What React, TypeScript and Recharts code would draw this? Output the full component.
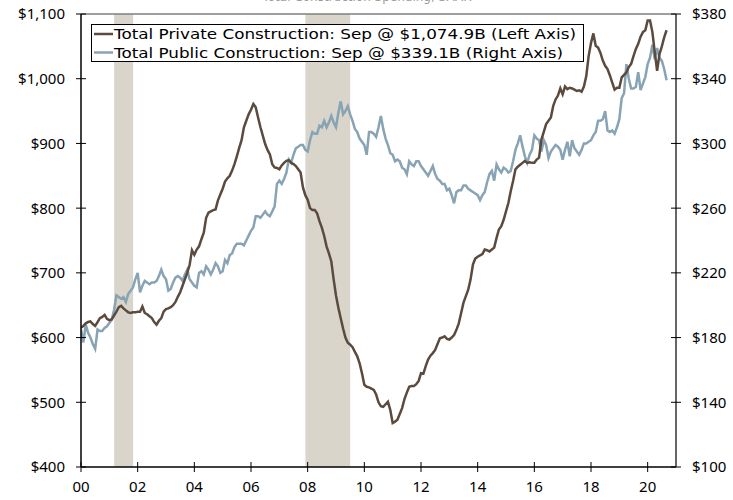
import React from 'react';
import { LineChart, Line, XAxis, YAxis, ReferenceArea, ReferenceLine } from 'recharts';

const startYear = 2000;

// Total Private Construction, $B (left axis), monthly Jan 2000 - Sep 2020
const privateConstruction = [
  615, 618, 622, 624, 625, 621, 618, 624, 630, 632, 635, 629,
  627, 628, 634, 640, 647, 649, 645, 642, 639, 638, 639, 639,
  640, 640, 648, 638, 636, 633, 630, 624, 620, 626, 630, 640,
  644, 645, 647, 650, 655, 663, 670, 680, 690, 700, 712, 735,
  728, 736, 741, 752, 762, 785, 793, 795, 797, 798, 812, 821,
  830, 841, 846, 850, 858, 868, 880, 893, 905, 925, 935, 945,
  952, 961, 956, 940, 925, 912, 899, 890, 883, 868, 863, 862,
  860, 866, 870, 873, 874, 870, 868, 865, 860, 855, 832, 820,
  813, 800, 797, 797, 792, 780, 770, 757, 741, 730, 718, 690,
  665, 646, 630, 614, 600, 592, 589, 585, 578, 571, 560, 545,
  527, 524, 523, 521, 519, 512, 500, 494, 493, 497, 501, 488,
  468, 470, 473, 482, 491, 505, 515, 524, 525, 525, 528, 533,
  545, 544, 556, 566, 572, 576, 581, 590, 599, 600, 602, 598,
  597, 600, 604, 612, 622, 638, 654, 664, 674, 690, 713, 722,
  725, 727, 729, 736, 735, 733, 736, 739, 754, 767, 772, 782,
  795, 808, 826, 842, 860, 864, 867, 870, 873, 870, 871, 870,
  870, 875, 878, 906, 918, 930, 935, 940, 958, 968, 974, 985,
  976, 988, 984, 986, 985, 983, 981, 982, 980, 988, 1004, 1035,
  1055, 1070, 1051, 1048, 1040, 1028, 1020, 1015, 1005, 994, 983, 986,
  986, 1002, 1006, 1010, 1018, 1023, 1035, 1046, 1054, 1065, 1072, 1075,
  1090, 1090, 1072, 1041, 1012, 1038, 1050, 1064, 1074.9,
];

// Total Public Construction, $B (right axis), monthly Jan 2000 - Sep 2020
const publicConstruction = [
  185, 177, 188, 183, 180, 176, 173, 185, 184, 184, 186, 187,
  189, 191, 197, 206, 205, 204, 205, 202, 207, 209, 211, 216,
  220, 208, 212, 215, 214, 213, 214, 214, 215, 218, 222, 218,
  216, 209, 210, 214, 217, 218, 217, 215, 219, 222, 216, 214,
  212, 211, 220, 221, 219, 224, 222, 219, 222, 226, 224, 220,
  221, 228, 226, 231, 232, 236, 238, 238, 238, 237, 240, 243,
  246, 248, 255, 255, 254, 256, 258, 256, 255, 258, 261, 275,
  277, 275, 278, 282, 290, 288, 293, 297, 298, 299, 299, 296,
  295, 302, 307, 306, 306, 311, 310, 314, 310, 313, 317, 313,
  310, 319, 326, 318, 320, 323, 318, 314, 309, 307, 303, 301,
  299, 293, 307, 307, 306, 304, 310, 317, 309, 303, 299, 294,
  293, 289, 290, 289, 285, 284, 281, 289, 287, 286, 289, 289,
  286, 284, 282, 280, 283, 286, 281, 278, 277, 275, 275, 271,
  272, 268, 263, 270, 271, 271, 274, 274, 272, 271, 270, 269,
  268, 265, 268, 270, 276, 281, 283, 277, 287, 284, 282, 285,
  284, 282, 283, 289, 296, 300, 305, 298, 292, 288, 293, 296,
  305, 303, 302, 295, 302, 299, 291, 295, 297, 299, 298, 296,
  290, 296, 301, 292, 302, 297, 295, 293, 296, 300, 300, 301,
  302, 305, 307, 314, 314, 315, 320, 308, 307, 308, 306, 310,
  315, 328, 331, 349, 340, 334, 334, 335, 344, 333, 337, 341,
  349, 353, 361, 352, 359, 353, 351, 346, 339.1,
];

const xTicks = [2000, 2002, 2004, 2006, 2008, 2010, 2012, 2014, 2016, 2018, 2020];
const leftTicks = [400, 500, 600, 700, 800, 900, 1000, 1100];
const rightTicks = [100, 140, 180, 220, 260, 300, 340, 380];
const recessions = [
  { start: 2001.17, end: 2001.84 },
  { start: 2007.92, end: 2009.5 },
];
const legendItems = [
  { label: 'Total Private Construction: Sep @ $1,074.9B (Left Axis)', color: '#5b4a3e', width: 462 },
  { label: 'Total Public Construction: Sep @ $339.1B (Right Axis)', color: '#88a3b4', width: 449 },
];
const titleText = 'Total Construction Spending, SAAR';

const data = privateConstruction.map((v, i) => ({
  t: startYear + i / 12,
  priv: v,
  pub: publicConstruction[i],
}));

const AXIS_FONT = "'Noto Sans', 'Open Sans', sans-serif";
const LEGEND_FONT = "'DejaVu Sans', Verdana, sans-serif";
const MARGIN_Y = 16;
const MARGIN_X = 14;

const fmtMoney = (v: number) => '$' + v.toLocaleString('en-US');

const LeftTick = (props: any) => {
  const { x, y, payload } = props;
  const ax = x + MARGIN_Y;
  return (
    <g>
      <line x1={ax - 5} x2={ax + 5} y1={y} y2={y} stroke="#000" strokeWidth={1} />
      <text x={x} y={y} dy="0.36em" textAnchor="end" fontSize={15} fill="#000" fontFamily={AXIS_FONT}>
        {fmtMoney(payload.value)}
      </text>
    </g>
  );
};

const RightTick = (props: any) => {
  const { x, y, payload } = props;
  const ax = x - MARGIN_Y;
  return (
    <g>
      <line x1={ax - 5} x2={ax + 5} y1={y} y2={y} stroke="#000" strokeWidth={1} />
      <text x={x} y={y} dy="0.36em" textAnchor="start" fontSize={15} fill="#000" fontFamily={AXIS_FONT}>
        {fmtMoney(payload.value)}
      </text>
    </g>
  );
};

const BottomTick = (props: any) => {
  const { x, y, payload } = props;
  const ay = y - MARGIN_X;
  const lbl = String(Math.round(payload.value) % 100).padStart(2, '0');
  return (
    <g>
      <line x1={x} x2={x} y1={ay - 5} y2={ay + 5} stroke="#000" strokeWidth={1} />
      <text x={x} y={y} dy="0.71em" textAnchor="middle" fontSize={15} fill="#000" fontFamily={AXIS_FONT}>
        {lbl}
      </text>
    </g>
  );
};

const Overlay = () => (
  <svg
    width={733}
    height={500}
    style={{ position: 'absolute', left: 0, top: 0, pointerEvents: 'none' }}
  >
    <text x={367} y={0.5} textAnchor="middle" fontSize={12} fill="#9a9a9a" fontFamily={LEGEND_FONT}>
      {titleText}
    </text>
    <rect x={91.5} y={24.5} width={492} height={37} fill="#fff" stroke="#000" strokeWidth={1} />
    {legendItems.map((item, i) => {
      const cy = 34 + i * 18.5;
      return (
        <g key={item.label}>
          <line x1={94} x2={113} y1={cy} y2={cy} stroke={item.color} strokeWidth={2.5} />
          <text
            x={114}
            y={cy}
            dy="0.36em"
            fontSize={14.5}
            fill="#000"
            fontFamily={LEGEND_FONT}
            textLength={item.width}
            lengthAdjust="spacingAndGlyphs"
          >
            {item.label}
          </text>
        </g>
      );
    })}
  </svg>
);

export default function App() {
  return (
    <div style={{ position: 'absolute', left: 0, top: 0, width: 733, height: 500, background: '#fff' }}>
      <LineChart width={733} height={500} data={data} margin={{ top: 14, right: 0, left: 0, bottom: 0 }}>
        <XAxis
          dataKey="t"
          type="number"
          domain={[2000, 2021]}
          ticks={xTicks}
          allowDataOverflow
          height={33}
          tickSize={0}
          tickMargin={MARGIN_X}
          tick={<BottomTick />}
          axisLine={{ stroke: '#000', strokeWidth: 1.5 }}
          tickLine={false}
        />
        <YAxis
          yAxisId="left"
          orientation="left"
          domain={[400, 1100]}
          ticks={leftTicks}
          width={81}
          tickSize={0}
          tickMargin={MARGIN_Y}
          tick={<LeftTick />}
          axisLine={{ stroke: '#000', strokeWidth: 1.5 }}
          tickLine={false}
          allowDataOverflow
        />
        <YAxis
          yAxisId="right"
          orientation="right"
          domain={[100, 380]}
          ticks={rightTicks}
          width={57}
          tickSize={0}
          tickMargin={MARGIN_Y}
          tick={<RightTick />}
          axisLine={{ stroke: '#333', strokeWidth: 1.5 }}
          tickLine={false}
          allowDataOverflow
        />
        {recessions.map((r) => (
          <ReferenceArea
            key={r.start}
            yAxisId="left"
            x1={r.start}
            x2={r.end}
            y1={400}
            y2={1100}
            fill="#d9d5ca"
            fillOpacity={1}
            stroke="none"
          />
        ))}
        <ReferenceLine yAxisId="left" y={1100} stroke="#7f7f7f" strokeWidth={1.5} />
        <Line
          yAxisId="right"
          dataKey="pub"
          stroke="#88a3b4"
          strokeWidth={2.5}
          dot={false}
          isAnimationActive={false}
        />
        <Line
          yAxisId="left"
          dataKey="priv"
          stroke="#5b4a3e"
          strokeWidth={2.5}
          dot={false}
          isAnimationActive={false}
        />
      </LineChart>
      <Overlay />
    </div>
  );
}
